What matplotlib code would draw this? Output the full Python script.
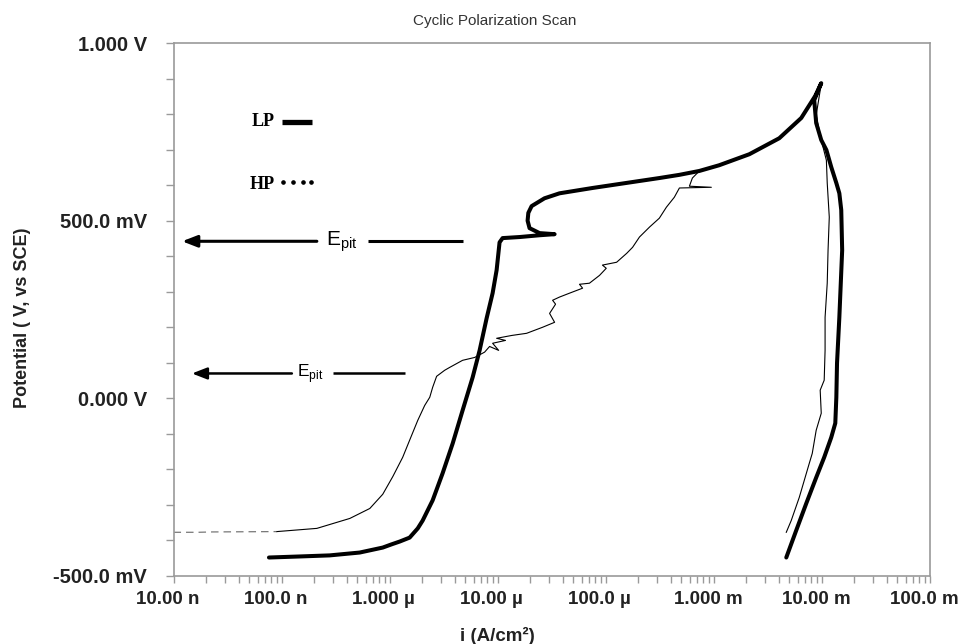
import numpy as np
import matplotlib
matplotlib.use("Agg")
import matplotlib.pyplot as plt
import matplotlib.transforms as mtransforms
from matplotlib.ticker import FixedLocator, NullFormatter

# ---- scan data: current density (A/cm2) and potential (V vs SCE) ----
# LP sample: forward scan, pitting jump, reverse scan
lp_current = [7.64e-8, 1.48e-7, 2.79e-7, 5.28e-7, 8.63e-7, 1.04e-6, 1.24e-6,
              1.53e-6, 1.82e-6, 2.02e-6, 2.50e-6, 3.09e-6, 3.83e-6, 4.73e-6,
              5.86e-6, 6.80e-6, 7.89e-6, 8.97e-6, 9.77e-6, 1.04e-5, 1.11e-5,
              1.60e-5, 2.44e-5, 3.36e-5, 2.44e-5, 1.97e-5, 1.89e-5, 1.92e-5,
              2.06e-5, 2.71e-5, 3.73e-5, 7.53e-5, 3.13e-4, 4.80e-4, 7.35e-4,
              1.12e-3, 2.13e-3, 4.03e-3, 6.44e-3, 8.67e-3, 9.86e-3,
              8.49e-3, 8.85e-3, 9.86e-3, 1.10e-2, 1.22e-2, 1.36e-2, 1.45e-2,
              1.51e-2, 1.54e-2, 1.45e-2, 1.38e-2, 1.36e-2, 1.33e-2, 1.22e-2,
              1.05e-2, 8.85e-3, 7.16e-3, 5.78e-3, 4.68e-3]
lp_potential = [-0.448, -0.445, -0.442, -0.434, -0.420, -0.411, -0.403,
                -0.392, -0.366, -0.344, -0.287, -0.211, -0.127, -0.034,
                0.059, 0.135, 0.225, 0.296, 0.361, 0.439, 0.451,
                0.454, 0.459, 0.462, 0.465, 0.479, 0.500, 0.522,
                0.541, 0.563, 0.577, 0.592, 0.620, 0.629, 0.640,
                0.656, 0.687, 0.732, 0.789, 0.851, 0.887,
                0.839, 0.775, 0.727, 0.699, 0.651, 0.606, 0.577,
                0.530, 0.417, 0.228, 0.099, 0.003, -0.070, -0.110,
                -0.166, -0.223, -0.296, -0.372, -0.448]

# HP sample: sparse points near the open-circuit end
hp_tail_current = [1.0e-8, 1.7e-8, 2.3e-8, 9.06e-8]
hp_tail_potential = [-0.377, -0.377, -0.376, -0.375]

# HP sample: forward scan up to the vertex, then reverse scan
hp_current = [9.06e-8, 2.12e-7, 4.28e-7, 6.55e-7, 8.63e-7, 1.07e-6, 1.32e-6,
              1.53e-6, 1.82e-6, 2.11e-6, 2.35e-6, 2.50e-6, 2.72e-6, 3.23e-6,
              3.59e-6, 4.73e-6, 6.11e-6, 7.56e-6, 8.41e-6, 1.02e-5, 8.97e-6,
              1.18e-5, 9.77e-6, 1.35e-5, 1.85e-5, 2.60e-5, 3.36e-5, 3.02e-5,
              3.43e-5, 3.22e-5, 3.73e-5, 4.62e-5, 6.10e-5, 5.71e-5, 7.06e-5,
              8.75e-5, 1.01e-4, 9.31e-5, 1.26e-4, 1.56e-4, 1.77e-4, 2.05e-4,
              2.54e-4, 3.13e-4, 3.64e-4, 4.31e-4, 4.80e-4, 9.48e-4, 5.94e-4,
              6.33e-4, 7.35e-4, 1.12e-3, 2.13e-3, 4.03e-3, 6.44e-3, 8.67e-3,
              9.86e-3,
              8.85e-3, 9.86e-3, 1.10e-2, 1.12e-2, 1.17e-2, 1.14e-2, 1.12e-2,
              1.07e-2, 1.07e-2, 1.05e-2, 9.64e-3, 9.86e-3, 8.85e-3, 8.14e-3,
              7.64e-3, 6.17e-3, 5.20e-3, 4.68e-3]
hp_potential = [-0.375, -0.366, -0.338, -0.310, -0.270, -0.220, -0.166,
                -0.118, -0.062, -0.020, 0.003, 0.031, 0.062, 0.079,
                0.087, 0.107, 0.115, 0.130, 0.146, 0.135, 0.155,
                0.163, 0.169, 0.177, 0.183, 0.200, 0.214, 0.239,
                0.265, 0.276, 0.285, 0.296, 0.310, 0.321, 0.324,
                0.346, 0.366, 0.375, 0.383, 0.408, 0.425, 0.454,
                0.482, 0.507, 0.538, 0.566, 0.592, 0.594, 0.597,
                0.620, 0.640, 0.656, 0.687, 0.732, 0.789, 0.851,
                0.885,
                0.797, 0.727, 0.670, 0.606, 0.510, 0.417, 0.324,
                0.228, 0.135, 0.051, 0.023, -0.042, -0.090, -0.155,
                -0.183, -0.279, -0.344, -0.377]

# axis ticks
x_major = [1e-8, 1e-7, 1e-6, 1e-5, 1e-4, 1e-3, 1e-2, 1e-1]
x_labels = ["10.00 n", "100.0 n", "1.000 µ", "10.00 µ", "100.0 µ",
            "1.000 m", "10.00 m", "100.0 m"]
y_major = [-0.5, 0.0, 0.5, 1.0]
y_labels = ["-500.0 mV", "0.000 V", "500.0 mV", "1.000 V"]

# pitting potential levels marked with arrows
epit_upper = 0.442
epit_lower = 0.070

axis_grey = "#9a9a9a"

fig = plt.figure(figsize=(9.63, 6.44), dpi=100)
ax = fig.add_axes([0.1802, 0.1056, 0.7855, 0.8276])

ax.plot(hp_tail_current, hp_tail_potential, color="#777777", lw=0.9,
        dashes=(6, 4))
ax.plot(hp_current, hp_potential, color="black", lw=0.8)
ax.plot(lp_current, lp_potential, color="black", lw=2.9,
        solid_joinstyle="round", solid_capstyle="round")

ax.set_xscale("log")
ax.set_xlim(1e-8, 1e-1)
ax.set_ylim(-0.5, 1.0)

ax.xaxis.set_major_locator(FixedLocator(x_major))
ax.set_xticklabels(x_labels)
minor_x = [m * d for d in x_major[:-1] for m in range(2, 10)]
ax.xaxis.set_minor_locator(FixedLocator(minor_x))
ax.xaxis.set_minor_formatter(NullFormatter())

ax.set_yticks(y_major)
ax.set_yticklabels(y_labels)
ax.yaxis.set_minor_locator(FixedLocator(np.arange(-0.4, 1.0, 0.1)))

for sp in ax.spines.values():
    sp.set_color(axis_grey)
    sp.set_linewidth(1.2)

ax.tick_params(axis="both", which="both", direction="out", color=axis_grey,
               width=1.0)
ax.tick_params(axis="x", which="both", length=5, pad=6, labelsize=13.5)
ax.tick_params(axis="y", which="both", length=6, pad=13, labelsize=14.5)

# x labels sit a little left of their decade ticks
shift = mtransforms.ScaledTranslation(-6 / 100, 0, fig.dpi_scale_trans)
for lab in ax.get_xticklabels():
    lab.set_transform(lab.get_transform() + shift)
for lab in ax.get_xticklabels() + ax.get_yticklabels():
    lab.set_fontfamily("Liberation Sans")
    lab.set_fontweight("bold")
    lab.set_color("#222222")

ax.set_xlabel("i (A/cm²)", fontsize=13.5, fontweight="bold",
              family="Liberation Sans", color="#222222")
ax.xaxis.set_label_coords(0.428, -0.095)
ax.set_ylabel("Potential ( V, vs SCE)", fontsize=13, fontweight="bold",
              family="Liberation Sans", color="#222222")
ax.yaxis.set_label_coords(-0.188, 0.485)

fig.text(0.514, 0.968, "Cyclic Polarization Scan", ha="center", va="center",
         fontsize=11, family="Liberation Sans", color="#333333")

# legend drawn by hand
ax.text(0.103, 0.852, "LP", transform=ax.transAxes, fontsize=13,
        fontweight="bold", family="Liberation Serif", va="center")
ax.plot([0.143, 0.183], [0.852, 0.852], transform=ax.transAxes,
        color="black", lw=3.8, solid_capstyle="butt")
ax.text(0.101, 0.735, "HP", transform=ax.transAxes, fontsize=13,
        fontweight="bold", family="Liberation Serif", va="center")
ax.plot([0.145, 0.158, 0.171, 0.182], [0.739] * 4, transform=ax.transAxes,
        ls="none", marker="o", ms=2.3, color="black")


def epit_arrow(y, tip, tail, text_x, right, fsize, lw):
    ax.annotate("", xy=(tip, y), xytext=(tail, y),
                arrowprops=dict(arrowstyle="-|>,head_length=0.9,head_width=0.35",
                                color="black", lw=lw, shrinkA=0, shrinkB=0))
    ax.text(text_x, y, r"E$_{\mathregular{pit}}$", ha="center", va="center",
            fontsize=fsize, family="Liberation Sans")
    ax.plot(right, [y, y], color="black", lw=lw, solid_capstyle="butt")


epit_arrow(epit_upper, 1.2e-8, 2.12e-7, 3.6e-7, [6.3e-7, 4.73e-6], 15, 2.2)
epit_arrow(epit_lower, 1.48e-8, 1.245e-7, 1.85e-7, [2.98e-7, 1.38e-6], 12.5, 1.8)

fig.savefig("out.png", dpi=100)
